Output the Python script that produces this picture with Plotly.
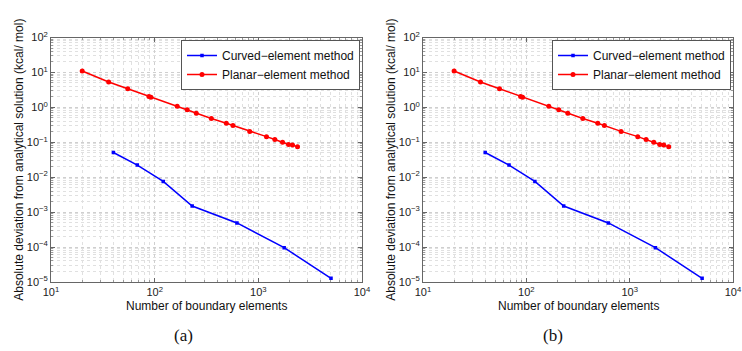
import plotly.graph_objects as go

# Data
planar_n = [20, 36, 55, 88, 92, 165, 206, 252, 352, 491, 569, 826, 1198, 1443, 1712, 1955, 2137, 2388]
planar_err = [11.0, 5.3, 3.4, 2.05, 1.95, 1.07, 0.86, 0.68, 0.48, 0.35, 0.30, 0.205, 0.145, 0.12, 0.10, 0.086, 0.083, 0.075]
curved_n = [40, 68, 121, 230, 622, 1775, 5025]
curved_err = [0.051, 0.0222, 0.0076, 0.00150, 0.00049, 0.0000960, 0.0000128]

x_ticks = [10, 100, 1000, 10000]
x_ticktext = ["10<sup>1</sup>", "10<sup>2</sup>", "10<sup>3</sup>", "10<sup>4</sup>"]
y_ticks = [1e-5, 1e-4, 1e-3, 1e-2, 1e-1, 1, 10, 100]
y_ticktext = ["10<sup>−5</sup>", "10<sup>−4</sup>", "10<sup>−3</sup>", "10<sup>−2</sup>",
              "10<sup>−1</sup>", "10<sup>0</sup>", "10<sup>1</sup>", "10<sup>2</sup>"]
captions = ["(a)", "(b)"]
x_title = "Number of boundary elements"
y_title = "Absolute deviation from analytical solution (kcal/ mol)"

W, H = 742, 351
FONT = "Liberation Sans, Arial, sans-serif"

x_minor = [m * 10 ** e for e in range(1, 4) for m in range(2, 10)]
y_minor = [m * 10.0 ** e for e in range(-5, 2) for m in range(2, 10)]

panels = [
    dict(x0=51, x1=362, cap=183),
    dict(x0=423, x1=733, cap=553),
]
ytop, ybot = 37.5, 282

fig = go.Figure()

for i, p in enumerate(panels):
    suffix = "" if i == 0 else str(i + 1)
    xa = "x" + suffix
    ya = "y" + suffix
    leg = "legend" + suffix
    fig.add_trace(go.Scatter(
        x=curved_n, y=curved_err, mode="lines+markers", name="Curved−element method",
        line=dict(color="#0000ff", width=1.5),
        marker=dict(symbol="square", size=3.5, color="#0000ff"),
        xaxis=xa, yaxis=ya, legend=leg))
    fig.add_trace(go.Scatter(
        x=planar_n, y=planar_err, mode="lines+markers", name="Planar−element method",
        line=dict(color="#ff0000", width=1.5),
        marker=dict(symbol="circle", size=5, color="#ff0000"),
        xaxis=xa, yaxis=ya, legend=leg))

    axis_common = dict(
        type="log", automargin=False,
        showline=True, linecolor="#666666", linewidth=1, mirror="allticks",
        ticks="inside", ticklen=4, tickcolor="#666666",
        showgrid=True, gridcolor="#cfcfcf", griddash="dot", gridwidth=1,
        tickfont=dict(family=FONT, size=11, color="#222222"),
        zeroline=False,
        minor=dict(showgrid=True, gridcolor="#e0e0e0", griddash="dot", gridwidth=1,
                   ticks="inside", ticklen=2, tickcolor="#999999"),
    )
    xdict = dict(axis_common, domain=[p["x0"] / W, p["x1"] / W],
                 range=[1, 4], tickmode="array", tickvals=x_ticks, ticktext=x_ticktext,
                 anchor=ya)
    xdict["minor"] = dict(axis_common["minor"], tickvals=x_minor)
    ydict = dict(axis_common, domain=[1 - ybot / H, 1 - ytop / H],
                 range=[-5, 2], tickmode="array", tickvals=y_ticks, ticktext=y_ticktext,
                 anchor=xa)
    ydict["minor"] = dict(axis_common["minor"], tickvals=y_minor)
    fig.update_layout(**{"xaxis" + suffix: xdict, "yaxis" + suffix: ydict})

    fig.update_layout(**{leg: dict(
        x=(p["x1"] - 2) / W, xanchor="right", y=1 - 40 / H, yanchor="top",
        bgcolor="white", bordercolor="#555555", borderwidth=1,
        font=dict(family=FONT, size=12, color="#111111"),
        tracegroupgap=0, itemwidth=30,
    )})

    cx = (p["x0"] + p["x1"]) / 2
    fig.add_annotation(x=cx / W, y=1 - 306 / H, xref="paper", yref="paper",
                       xanchor="center", yanchor="middle",
                       text=x_title, showarrow=False,
                       font=dict(family=FONT, size=12, color="#111111"))
    fig.add_annotation(x=(p["x0"] - 32) / W, y=1 - (ytop + ybot) / 2 / H, xref="paper", yref="paper",
                       xanchor="center", yanchor="middle",
                       text=y_title, showarrow=False, textangle=-90,
                       font=dict(family=FONT, size=12, color="#111111"))
    fig.add_annotation(x=p["cap"] / W, y=1 - 335 / H, xref="paper", yref="paper",
                       xanchor="center", yanchor="middle",
                       text=captions[i], showarrow=False,
                       font=dict(family="Liberation Serif, DejaVu Serif, serif", size=17, color="#111111"))

fig.update_layout(
    template="none",
    width=W, height=H, margin=dict(l=0, r=0, t=0, b=0, autoexpand=False),
    paper_bgcolor="white", plot_bgcolor="white", showlegend=True,
)

fig.write_html("out.html", config={"displayModeBar": False},
               post_script="document.body.style.margin='0';")
